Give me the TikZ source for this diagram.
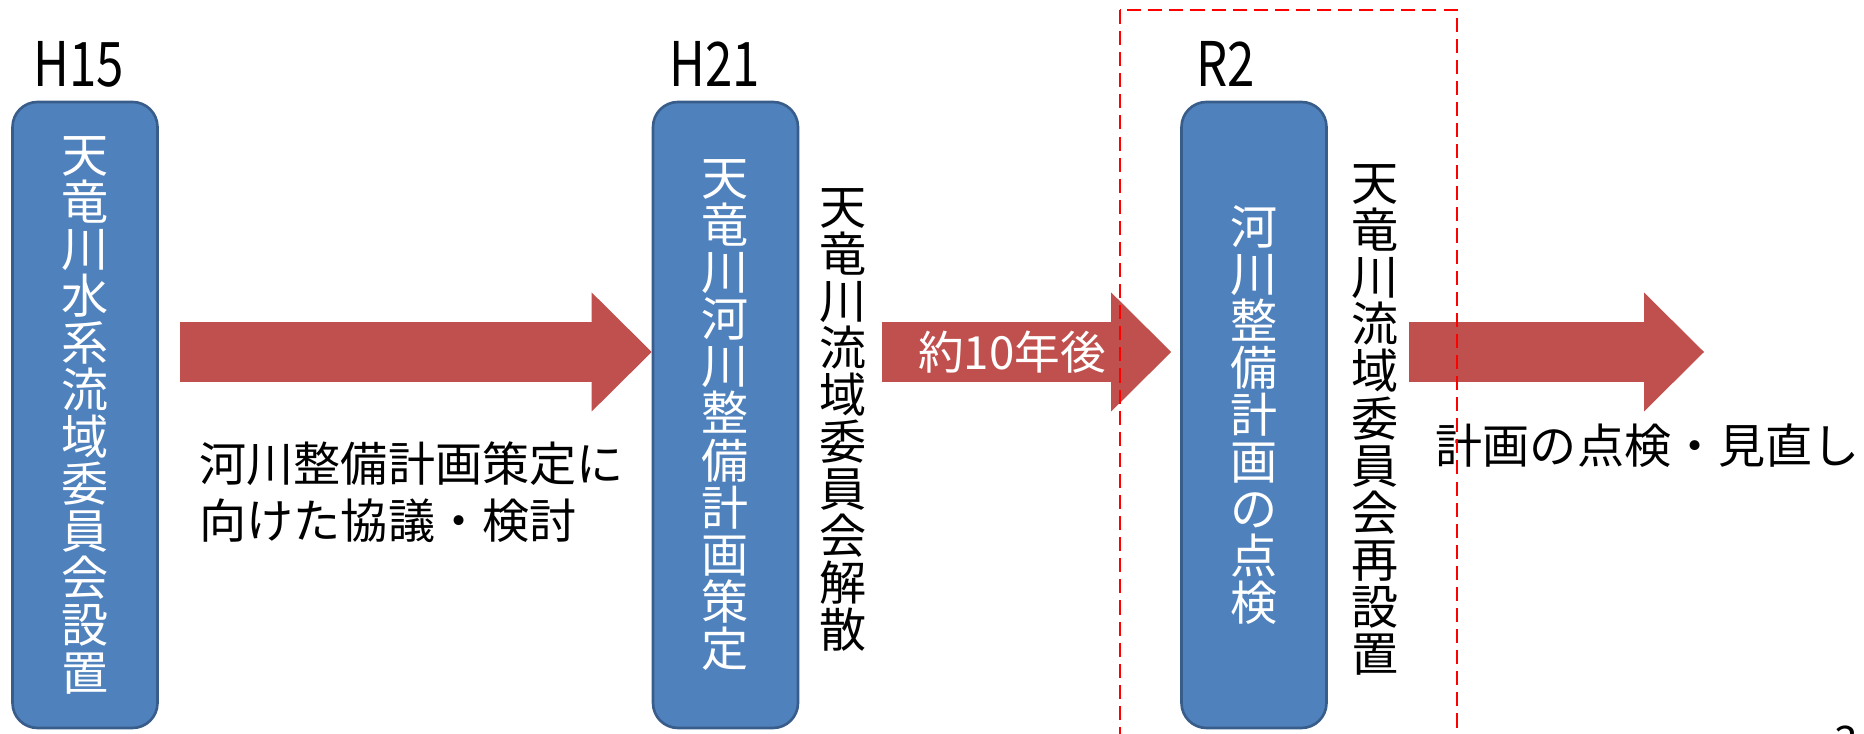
\documentclass[tikz,border=0pt]{standalone}
\usepackage{fontspec}
\setmainfont{Noto Sans CJK JP}
\newfontfamily\yearfont{Noto Sans CJK JP}[FakeStretch=0.8]
\usetikzlibrary{arrows.meta}
\definecolor{boxblue}{HTML}{4F81BD}
\definecolor{boxline}{HTML}{385D8A}
\definecolor{arrowred}{HTML}{C0504D}

\begin{document}
\begin{tikzpicture}[
  stage/.style={draw=boxline, line width=0.75pt, fill=boxblue, rounded corners=0.25cm,
    minimum width=1.45cm, minimum height=6.26cm, inner sep=0pt, align=center,
    text=white, font=\fontsize{13.4}{13.4}\selectfont},
  vtext/.style={inner sep=0pt, align=center, font=\fontsize{13.4}{13.4}\selectfont},
  note/.style={inner sep=0pt, align=left, font=\fontsize{13.4}{16.2}\selectfont},
  year/.style={inner sep=0pt, anchor=base west, font=\yearfont\fontsize{17.5}{17.5}\selectfont},
  bigarrow/.style={draw=arrowred, line width=0.6cm,
    -{Triangle[length=0.6cm,width=1.19cm,line width=0pt]}},
  dashbox/.style={draw=red, line width=0.7pt, dash pattern=on 4pt off 2pt}]
\useasboundingbox (0,0) rectangle (18.64,-7.34);

% years
\node[year] (h15) at (0.33,-0.87) {H15};
\node[year] (h21) at (6.69,-0.87) {H21};
\node[year] (r2) at (11.96,-0.87) {R2};

% stages
\node[stage] (set) at (0.85,-4.15) {天\\竜\\川\\水\\系\\流\\域\\委\\員\\会\\設\\置};
\node[stage] (plan) at (7.255,-4.15) {天\\竜\\川\\河\\川\\整\\備\\計\\画\\策\\定};
\node[stage] (check) at (12.54,-4.15) {河\\川\\整\\備\\計\\画\\の\\点\\検};

% committee
\node[vtext] (close) at (8.43,-4.20) {天\\竜\\川\\流\\域\\委\\員\\会\\解\\散};
\node[vtext] (reset) at (13.75,-4.20) {天\\竜\\川\\流\\域\\委\\員\\会\\再\\設\\置};

% arrows
\coordinate (row) at (0,-3.52);
\coordinate (tipend) at (17.04,-3.52);
\draw[bigarrow] ([xshift=2.1mm]set.east |- row) -- (plan.west |- row);
\draw[bigarrow] ([xshift=1.45mm]close.east |- row) -- ([xshift=-0.9mm]check.west |- row)
  node[pos=0.45, text=white, inner sep=0pt, font=\fontsize{13}{13}\selectfont] (later) {約10年後};
\draw[bigarrow] ([xshift=0.95mm]reset.east |- row) -- (tipend);

% notes
\node[note, anchor=west] (talk) at (1.99,-4.92) {河川整備計画策定に\\向けた協議・検討};
\node[note, anchor=west] (review) at (14.35,-4.46) {計画の点検・見直し};

% focus
\draw[dashbox] (11.20,-0.10) rectangle (14.57,-7.38);

\node[anchor=north, inner sep=0pt, font=\fontsize{12}{12}\selectfont] (page) at (18.46,-7.25) {3};
\end{tikzpicture}
\end{document}
